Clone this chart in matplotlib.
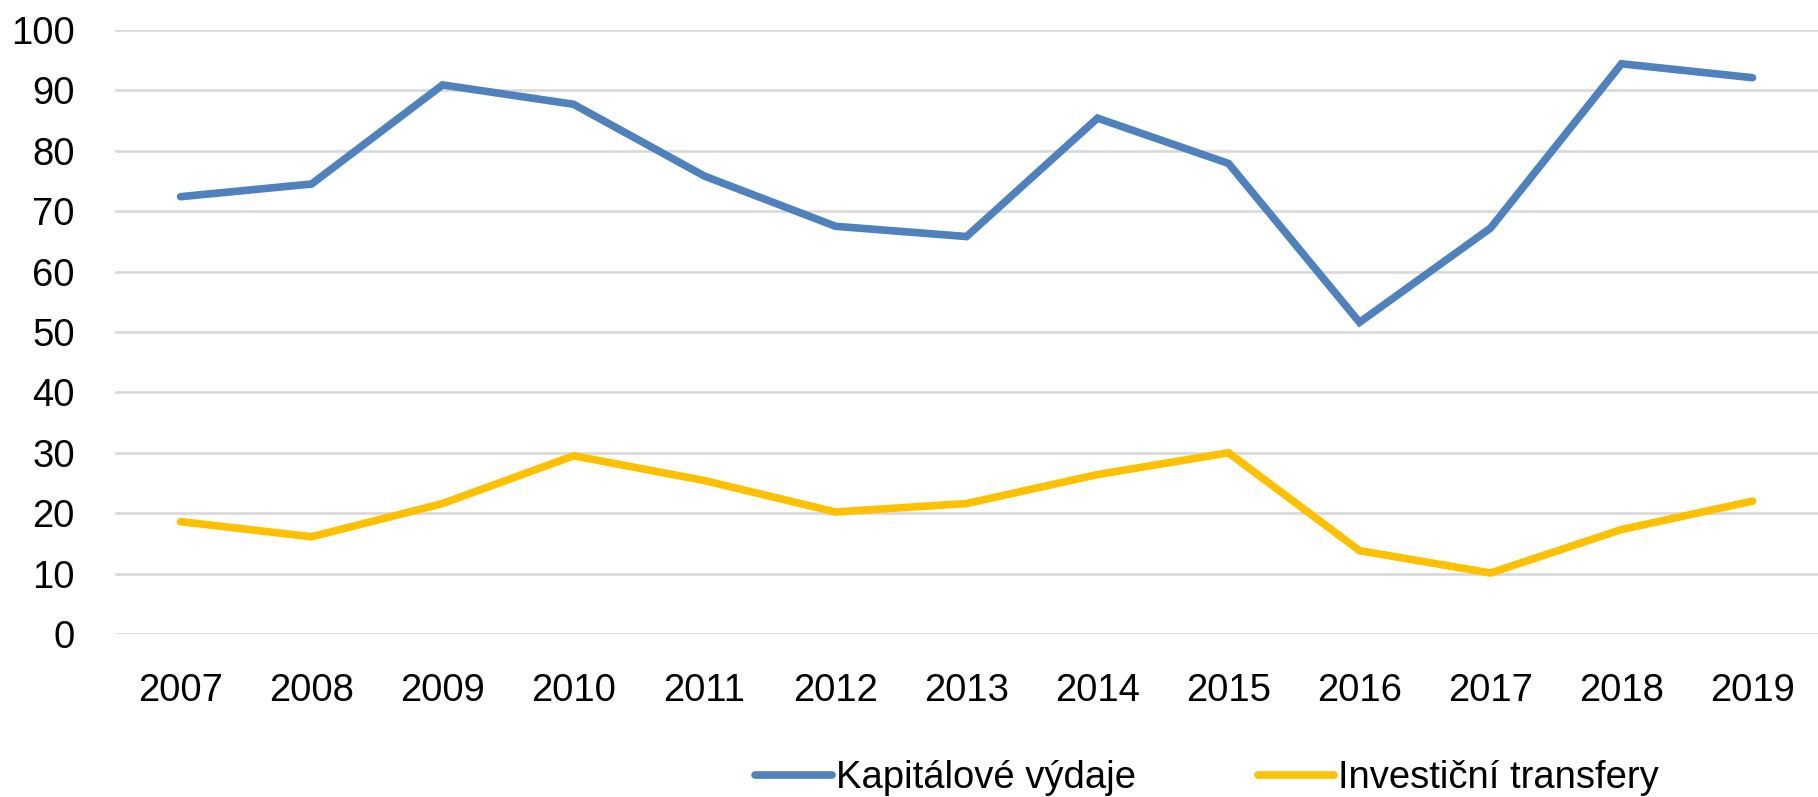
import numpy as np
import matplotlib
matplotlib.use('Agg')
import matplotlib.pyplot as plt

# Data
years = ['2007', '2008', '2009', '2010', '2011', '2012', '2013',
         '2014', '2015', '2016', '2017', '2018', '2019']
kapitalove = [72.4, 74.5, 90.9, 87.7, 75.8, 67.5, 65.8, 85.4, 77.9, 51.6, 67.2, 94.4, 92.1]
investicni = [18.6, 16.1, 21.6, 29.5, 25.4, 20.2, 21.6, 26.4, 30.0, 13.8, 10.1, 17.3, 22.0]
seriesNames = ['Kapitálové výdaje', 'Investiční transfery']
yticks = [0, 10, 20, 30, 40, 50, 60, 70, 80, 90, 100]

plt.rcParams['font.family'] = ['Liberation Sans', 'DejaVu Sans']
fontSize = 27.5

fig = plt.figure(figsize=(18.18, 7.97), dpi=100)
ax = fig.add_axes([0.0633, 0.2045, 0.9367, 0.7579])

x = np.arange(len(years))
ax.plot(x, kapitalove, color='#4F81BD', lw=5.5, solid_capstyle='round', solid_joinstyle='miter', label=seriesNames[0], zorder=3)
ax.plot(x, investicni, color='#FFC000', lw=5.5, solid_capstyle='round', solid_joinstyle='miter', label=seriesNames[1], zorder=3)

ax.set_xlim(-0.5, len(years) - 0.5)
ax.set_ylim(0, 100)
ax.set_yticks(yticks)
ax.set_xticks(x)
ax.set_xticklabels(years)
ax.yaxis.grid(True, color='#D9D9D9', lw=1.9)
ax.set_axisbelow(True)
for s in ax.spines.values():
    s.set_visible(False)
ax.tick_params(axis='both', length=0, labelsize=fontSize)
ax.tick_params(axis='y', pad=29)
ax.tick_params(axis='x', pad=28)

fig.legend(loc='center', bbox_to_anchor=(0.664, 0.024), ncol=2, frameon=False,
           fontsize=fontSize, handlelength=2.0, handletextpad=0.1, columnspacing=3.2,
           borderpad=0, borderaxespad=0)

fig.savefig('out.png', dpi=100)
